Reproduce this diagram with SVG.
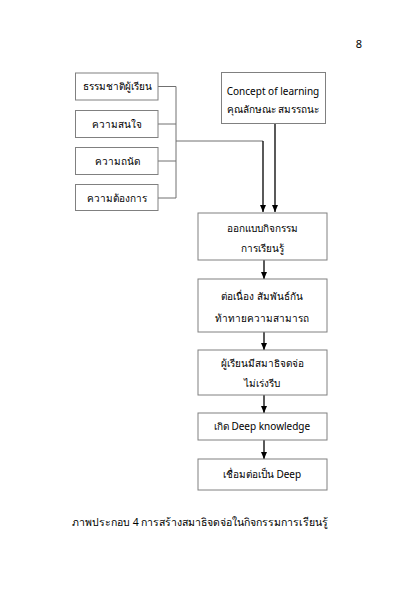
<svg xmlns="http://www.w3.org/2000/svg" width="420" height="595" viewBox="0 0 420 595">
<style>
text{font-family:"Noto Sans","DejaVu Sans","Liberation Sans",sans-serif;font-size:10px;fill:#000;text-anchor:middle}
.box{fill:#fff;stroke:#808080;stroke-width:1}
.gl{fill:none;stroke:#707070;stroke-width:1}
.ar{fill:none;stroke:#000;stroke-width:1.3}
</style>
<defs>
<marker id="ah" markerWidth="7" markerHeight="6" refX="7" refY="3" orient="auto" markerUnits="userSpaceOnUse" viewBox="0 0 7 6">
<path d="M0,0 L7,3 L0,6 Z" fill="#000"/>
</marker>
</defs>
<rect width="420" height="595" fill="#fff"/>
<text x="359" y="48" style="font-size:11px">8</text>
<g id="connectors">
<path class="gl" d="M158,86.5 H176 M158,124 H176 M158,161 H176 M158,198 H176 M176,86.5 V198 M176,141 H263"/>
<path class="ar" d="M263,141 V212" marker-end="url(#ah)"/>
<path class="ar" d="M275,124 V212" marker-end="url(#ah)"/>
<path class="ar" d="M264,260 V279" marker-end="url(#ah)"/>
<path class="ar" d="M264,332 V350" marker-end="url(#ah)"/>
<path class="ar" d="M264,395 V413" marker-end="url(#ah)"/>
<path class="ar" d="M264,440 V459" marker-end="url(#ah)"/>
</g>
<g id="n1"><rect class="box" x="75.5" y="73" width="82.5" height="27"/><text x="117" y="90">ธรรมชาติผู้เรียน</text></g>
<g id="n2"><rect class="box" x="75.5" y="110.5" width="82.5" height="27"/><text x="117" y="128">ความสนใจ</text></g>
<g id="n3"><rect class="box" x="75.5" y="147.5" width="82.5" height="27"/><text x="117" y="165">ความถนัด</text></g>
<g id="n4"><rect class="box" x="75.5" y="184.5" width="82.5" height="26"/><text x="117" y="202">ความต้องการ</text></g>
<g id="n5"><rect class="box" x="221.5" y="72.5" width="104" height="51"/><text x="273" y="95">Concept of learning</text><text x="273" y="113">คุณลักษณะ สมรรถนะ</text></g>
<g id="n6"><rect class="box" x="198" y="213" width="129" height="47"/><text x="262" y="232">ออกแบบกิจกรรม</text><text x="262" y="252">การเรียนรู้</text></g>
<g id="n7"><rect class="box" x="198" y="279" width="129" height="53"/><text x="262" y="300">ต่อเนื่อง สัมพันธ์กัน</text><text x="262" y="322">ท้าทายความสามารถ</text></g>
<g id="n8"><rect class="box" x="198" y="350" width="129" height="45"/><text x="262" y="367">ผู้เรียนมีสมาธิจดจ่อ</text><text x="262" y="387">ไม่เร่งรีบ</text></g>
<g id="n9"><rect class="box" x="198" y="413" width="129" height="27"/><text x="262" y="430">เกิด Deep knowledge</text></g>
<g id="n10"><rect class="box" x="198" y="459" width="129" height="31"/><text x="262" y="478">เชื่อมต่อเป็น Deep</text></g>
<text x="72" y="526" style="text-anchor:start;font-size:10.5px">ภาพประกอบ 4 การสร้างสมาธิจดจ่อในกิจกรรมการเรียนรู้</text>
</svg>
